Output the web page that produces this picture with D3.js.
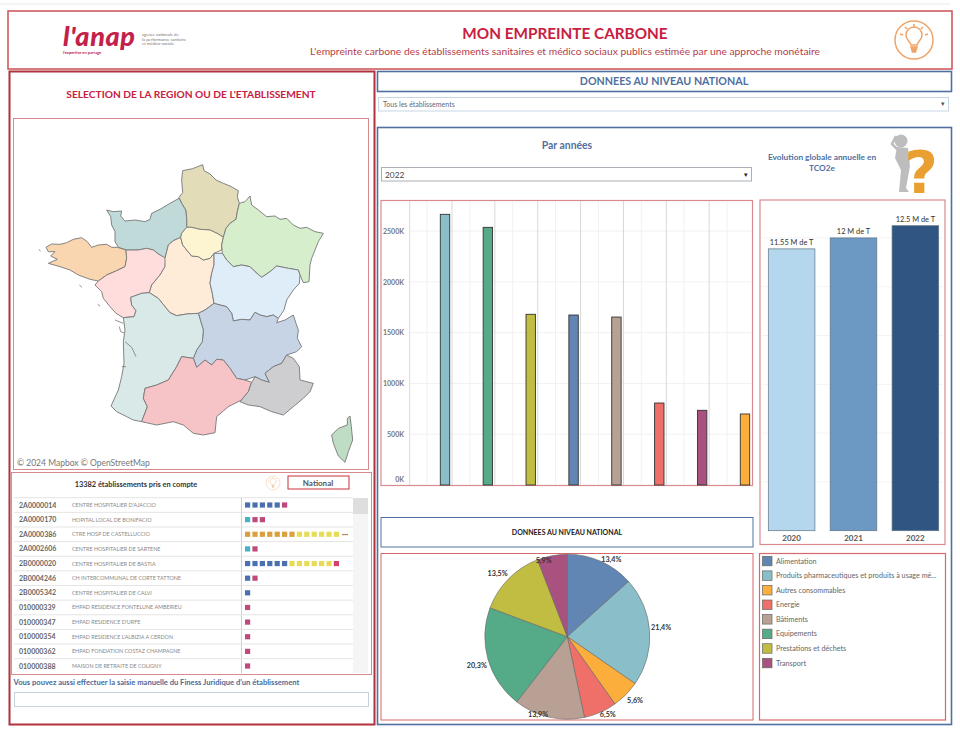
<!DOCTYPE html>
<html>
<head>
<meta charset="utf-8">
<title>Mon empreinte carbone</title>
<script src="https://cdn.jsdelivr.net/npm/d3@7"></script>
<style>
  html, body { margin: 0; padding: 0; background: #fff; }
  svg { display: block; }
  text { font-family: Lato, "Open Sans", sans-serif; }
</style>
</head>
<body>
<div id="chart"></div>
<script>
const categories = ['Alimentation', 'Produits pharmaceutiques et produits à usage mé...', 'Autres consommables', 'Energie', 'Bâtiments', 'Equipements', 'Prestations et déchets', 'Transport'];
const categoryColors = ['#6286B3', '#8ABFC9', '#FBAE3C', '#EE7068', '#B8A194', '#55AB87', '#C1BC42', '#A9527F'];
const sharePercent = [13.4, 21.4, 5.6, 6.5, 13.9, 20.3, 13.5, 5.9];

// bars sorted as in the "Par années" chart
const barCategories = ['Produits pharmaceutiques et produits à usage mé...', 'Equipements', 'Prestations et déchets', 'Alimentation', 'Bâtiments', 'Energie', 'Transport', 'Autres consommables'];
const barValues = [2664000, 2536000, 1680000, 1673000, 1653000, 807000, 735000, 699000];
const barTicks = [0, 500000, 1000000, 1500000, 2000000, 2500000];

const years = ['2020', '2021', '2022'];
const yearTotals = [11.55, 12, 12.5];
const yearLabels = ['11.55 M de T', '12 M de T', '12.5 M de T'];
const yearColors = ['#B5D7EE', '#6C98C4', '#2F5682'];
const yearTicks = [2, 4, 6, 8, 10, 12];

// establishments list
const finessCodes = ['2A0000014', '2A0000170', '2A0000386', '2A0002606', '2B0000020', '2B0004246', '2B0005342', '010000339', '010000347', '010000354', '010000362', '010000388'];
const finessNames = ['CENTRE HOSPITALIER D\'AJACCIO', 'HOPITAL LOCAL DE BONIFACIO', 'CTRE HOSP DE CASTELLUCCIO', 'CENTRE HOSPITALIER DE SARTENE', 'CENTRE HOSPITALIER DE BASTIA', 'CH INTERCOMMUNAL DE CORTE TATTONE', 'CENTRE HOSPITALIER DE CALVI', 'EHPAD RESIDENCE FONTELUNE AMBERIEU', 'EHPAD RESIDENCE D\'URFE', 'EHPAD RESIDENCE L\'ALBIZIA A CERDON', 'EHPAD FONDATION COSTAZ CHAMPAGNE', 'MAISON DE RETRAITE DE COLIGNY'];
const finessMarks = ['bbbbbm', 'tmm', 'oooooooyyyyyy', 'tm', 'bbbbbbyyyyyyr', 'bm', 'b', 'm', 'm', 'm', 'm', 'm'];
const markColors = { b: '#4A70B0', m: '#BE4A7C', t: '#45B2C8', o: '#D8A03E', y: '#E6DC58', r: '#D8406E' };

// region outlines, in the units of a 1095x960 tracing of the map
const regionNames = ['Hauts-de-France', 'Normandie', 'Bretagne', 'Pays de la Loire', 'Centre-Val de Loire', 'Ile-de-France', 'Grand Est', 'Bourgogne-Franche-Comté', 'Auvergne-Rhône-Alpes', 'Nouvelle-Aquitaine', 'Occitanie', 'PACA', 'Corse'];
const regionColors = ['#E2DCB9', '#C0DADA', '#F9D6B0', '#FEDDDC', '#FEEBD8', '#FDF4D2', '#D7EECD', '#DFEDF9', '#C6D4E6', '#D9E9E7', '#F6C4C6', '#CECDD0', '#BFDDC5'];
const regionOutlines = [
  [[507,142],[518,128],[515,90],[518,62],[548,56],[578,44],[582,62],[600,72],[618,90],[640,100],[660,108],[685,122],[682,140],[688,160],[682,185],[678,208],[660,220],[648,235],[640,262],[625,252],[600,240],[570,238],[545,232],[530,232],[530,205],[527,180],[515,160]],
  [[290,180],[310,185],[335,183],[332,198],[345,213],[375,210],[405,215],[420,208],[425,190],[450,178],[480,160],[507,145],[515,160],[527,180],[530,205],[530,232],[515,250],[512,262],[490,272],[475,285],[470,305],[465,325],[445,312],[430,300],[410,295],[385,300],[350,300],[325,292],[315,275],[315,245],[305,225],[302,200]],
  [[108,292],[125,282],[150,283],[170,278],[190,268],[215,263],[232,275],[245,292],[265,285],[290,283],[305,292],[322,292],[348,300],[350,325],[345,350],[320,362],[290,375],[265,393],[240,388],[205,375],[180,360],[150,350],[115,340],[142,328],[122,318],[135,305],[115,305]],
  [[348,300],[385,300],[410,295],[430,300],[445,312],[468,325],[465,350],[450,375],[425,405],[418,428],[395,430],[362,442],[365,465],[378,482],[372,500],[340,503],[318,490],[300,470],[280,445],[275,425],[255,405],[265,393],[290,375],[320,362],[345,350],[350,325]],
  [[475,285],[490,272],[512,262],[518,285],[530,300],[545,318],[565,320],[580,330],[600,325],[612,310],[612,345],[605,370],[600,400],[607,430],[612,460],[585,480],[565,490],[530,492],[500,497],[480,488],[465,470],[445,445],[418,428],[425,405],[450,375],[465,350],[465,325],[470,305]],
  [[530,232],[545,232],[570,238],[600,240],[625,252],[640,262],[635,285],[635,300],[612,310],[600,325],[580,330],[565,320],[545,318],[530,300],[518,285],[512,262],[515,250]],
  [[720,138],[725,165],[745,180],[770,200],[795,198],[810,208],[830,205],[850,225],[870,235],[890,232],[915,245],[940,250],[925,275],[915,300],[905,325],[900,345],[897,395],[880,398],[870,375],[865,360],[835,355],[800,348],[780,365],[755,382],[735,365],[720,350],[695,345],[670,350],[650,330],[637,310],[635,285],[640,262],[648,235],[660,220],[678,208],[682,185],[688,160],[705,155]],
  [[612,310],[637,310],[650,330],[670,350],[695,345],[720,350],[735,365],[755,382],[780,365],[800,348],[835,355],[865,360],[870,375],[868,400],[850,420],[830,450],[822,480],[805,505],[790,495],[770,500],[750,495],[735,487],[720,510],[695,508],[670,513],[665,490],[650,470],[630,465],[612,460],[607,430],[600,400],[605,370],[612,345]],
  [[612,460],[630,465],[650,470],[665,490],[670,513],[695,508],[720,510],[735,487],[750,495],[770,500],[790,495],[805,505],[800,518],[825,510],[850,495],[858,520],[865,540],[862,565],[875,590],[860,605],[830,615],[815,640],[790,650],[765,670],[778,697],[755,690],[735,680],[705,690],[680,685],[660,655],[640,630],[620,628],[605,645],[585,630],[560,652],[550,625],[560,600],[577,575],[580,540],[565,490],[585,480]],
  [[362,442],[395,430],[418,428],[445,445],[465,470],[480,488],[500,497],[530,492],[565,490],[580,540],[577,575],[560,600],[550,625],[515,620],[500,650],[475,690],[440,705],[405,715],[400,745],[412,770],[395,815],[370,810],[350,800],[320,785],[303,768],[325,720],[335,680],[342,640],[340,575],[345,540],[340,503],[372,500],[378,482],[365,465]],
  [[405,715],[440,705],[475,690],[500,650],[515,620],[550,625],[560,652],[585,630],[605,645],[620,628],[640,630],[660,655],[680,685],[705,690],[725,697],[715,725],[695,750],[655,770],[620,800],[615,848],[580,855],[550,850],[520,825],[490,815],[440,825],[395,815],[412,770],[400,745]],
  [[778,697],[765,670],[790,650],[815,640],[830,615],[850,625],[868,650],[870,690],[910,700],[900,725],[880,745],[850,770],[820,795],[785,785],[750,770],[715,765],[690,755],[715,725],[725,697],[735,680],[755,690]],
  [[1020,798],[1024,830],[1028,870],[1015,905],[1005,937],[985,918],[970,880],[965,855],[985,835],[1012,825],[1012,805]]
];
// islands and the Gironde estuary, same units
const coastDetails = [
  [[315,510],[340,520]],
  [[328,530],[332,545],[345,550]],
  [[345,575],[365,592],[378,620]],
  [[335,650],[348,650]],
  [[86,299],[92,303]],
  [[208,405],[216,412]],
  [[263,463],[270,468]]
];

const svgWidth = 960, svgHeight = 731;
const red = '#C9323F', darkRed = '#B0333C', softRed = '#D98A8E', blue = '#4F70A0', titleRed = '#C8203F';

const svg = d3.select('#chart').append('svg')
  .attr('width', svgWidth)
  .attr('height', svgHeight);

// small helpers for the frames and labels
function box(x, y, w, h, color, weight) {
  return svg.append('rect')
    .attr('x', x).attr('y', y).attr('width', w).attr('height', h)
    .attr('fill', 'none').attr('stroke', color).attr('stroke-width', weight || 1);
}
function label(x, y, str, size, color, anchor, weight) {
  return svg.append('text')
    .attr('x', x).attr('y', y).text(str)
    .attr('font-size', size).attr('fill', color)
    .attr('text-anchor', anchor || 'start')
    .attr('font-weight', weight || 400);
}
function bulb(cx, cy, r, color) {
  const g = svg.append('g').attr('transform', `translate(${cx},${cy}) scale(${r / 19})`)
    .attr('fill', 'none').attr('stroke', color).attr('stroke-width', 1.5);
  g.append('circle').attr('r', 19);
  g.append('path').attr('d', 'M-3 5 C-4 1 -8 0 -8 -5 A8 8 0 0 1 8 -5 C8 0 4 1 3 5 Z');
  g.append('path').attr('d', 'M-3 7 H3 L1.5 12 H-1.5 Z').attr('fill', color);
  g.append('path').attr('d', 'M0 -16 V-13 M-9 -13 L-7 -11 M9 -13 L7 -11 M-14 -6 L-11 -5 M14 -6 L11 -5');
}

// page frames
svg.append('line').attr('x1', 0).attr('x2', 950).attr('y1', 4).attr('y2', 4).attr('stroke', '#EEEAE6');
box(8, 11, 944, 58, '#CF5A60', 1.6);
box(9.5, 71.5, 365, 653, darkRed, 2);
box(377.5, 71.5, 574, 20, blue, 1.6);
box(377.5, 127.5, 574, 597, blue, 1.6);
box(13.5, 118.5, 355, 351, softRed, 1);
box(11.5, 472.5, 360, 202, softRed, 1);

// header
svg.append('text').attr('x', 63).attr('y', 45.5).text("l'anap")
  .attr('font-size', 27).attr('font-weight', 900).attr('font-style', 'italic').attr('fill', '#C4214A')
  .attr('letter-spacing', 0.6);
label(63, 54, "l'expertise en partage", 4, '#C4214A', 'start', 700);
label(142, 36, 'agence nationale de', 4.2, '#777');
label(142, 40.5, 'la performance sanitaire', 4.2, '#777');
label(142, 45, 'et médico-sociale', 4.2, '#777');
label(565, 39, 'MON EMPREINTE CARBONE', 15.3, titleRed, 'middle', 700);
label(565, 55, "L'empreinte carbone des établissements sanitaires et médico sociaux publics estimée par une approche monétaire", 10.3, '#B5404A', 'middle');
bulb(914, 40, 19, '#EFA468');

// left column
label(191, 98, "SELECTION DE LA REGION OU DE L'ETABLISSEMENT", 10.2, titleRed, 'middle', 700);

const mapX = d3.scaleLinear().domain([0, 1095]).range([10, 375]);
const mapY = d3.scaleLinear().domain([0, 960]).range([150, 470]);
const mapLine = d3.line().x(d => mapX(d[0])).y(d => mapY(d[1])).curve(d3.curveLinearClosed);
const coastLine = d3.line().x(d => mapX(d[0])).y(d => mapY(d[1]));

svg.append('g').selectAll('path')
  .data(regionOutlines)
  .join('path')
  .attr('d', mapLine)
  .attr('fill', (d, i) => regionColors[i])
  .attr('stroke', '#777')
  .attr('stroke-width', 0.9)
  .attr('stroke-linejoin', 'round')
  .append('title').text((d, i) => regionNames[i]);
svg.append('g').selectAll('path')
  .data(coastDetails)
  .join('path')
  .attr('d', coastLine)
  .attr('fill', 'none')
  .attr('stroke', '#888')
  .attr('stroke-width', 0.9);
label(17, 465.5, '© 2024 Mapbox  © OpenStreetMap', 8.5, '#777');

label(136, 487, '13382 établissements pris en compte', 7.4, '#333', 'middle', 700);
bulb(273, 483, 7, '#EFC9A0');
box(288, 476, 61, 13, red, 1);
label(318, 485.5, 'National', 8, '#555', 'middle', 700);

// establishments table
const rowY = d3.scalePoint().domain(finessCodes).range([505, 666]);
svg.append('rect').attr('x', 353).attr('y', 498).attr('width', 15).attr('height', 175).attr('fill', '#F5F5F5');
svg.append('rect').attr('x', 353).attr('y', 498).attr('width', 15).attr('height', 16).attr('fill', '#DEDEDE');
const rows = svg.append('g').selectAll('g')
  .data(finessCodes)
  .join('g')
  .attr('transform', d => `translate(0,${rowY(d)})`);
rows.append('line')
  .attr('x1', 14).attr('x2', 353).attr('y1', -7.3).attr('y2', -7.3)
  .attr('stroke', '#E4E4E4');
rows.append('line')
  .attr('x1', 241.5).attr('x2', 241.5).attr('y1', -7.3).attr('y2', 7.3)
  .attr('stroke', '#CBD3DA');
rows.append('text')
  .attr('x', 19).attr('y', 2.5).text(d => d)
  .attr('font-size', 7).attr('font-weight', 700).attr('fill', '#666');
rows.append('text')
  .attr('x', 72).attr('y', 2).text((d, i) => finessNames[i])
  .attr('font-size', 5.4).attr('fill', '#888');
rows.selectAll('rect')
  .data((d, i) => finessMarks[i].split(''))
  .join('rect')
  .attr('x', (d, i) => 245 + i * 7.4)
  .attr('y', -2.6)
  .attr('width', 5.2)
  .attr('height', 5.2)
  .attr('fill', d => markColors[d]);
label(342, 536, '•••', 3.5, '#555');

label(13.5, 685, "Vous pouvez aussi effectuer la saisie manuelle du Finess Juridique d'un établissement", 7.6, '#4A6A98', 'start', 700);
box(14.5, 692.5, 354, 14, '#C5D3DD', 1);

// right column
label(664, 85, 'DONNEES AU NIVEAU NATIONAL', 10.7, blue, 'middle', 700);
box(378.5, 97.5, 570, 13.5, '#C5D6E6', 1);
label(383, 106.5, 'Tous les établissements', 7, '#5A6A7A');
label(941, 106, '▾', 7, '#555');

label(567, 149, 'Par années', 10.4, blue, 'middle', 700);
box(381.5, 167.5, 370, 13.5, '#AAB0B5', 1);
label(385, 177.5, '2022', 8.4, '#444');
label(744, 177, '▾', 7, '#222');
label(822, 160, 'Evolution globale annuelle en', 8.3, blue, 'middle', 700);
label(822, 171, 'TCO2e', 8.3, blue, 'middle', 700);

// thinking figure and question mark
const figure = svg.append('g').attr('fill', '#BDBDBD');
figure.append('circle').attr('cx', 901).attr('cy', 141).attr('r', 6.5);
figure.append('path').attr('d', 'M897 147 L908 148 L910 166 L906 188 L909 192 L899 192 L901 170 L895 158 Z');
figure.append('path').attr('d', 'M898 150 L892 144 L896 136').attr('fill', 'none').attr('stroke', '#BDBDBD').attr('stroke-width', 2.6);
svg.append('text').attr('x', 921).attr('y', 193).text('?')
  .attr('font-size', 58).attr('font-weight', 700).attr('fill', '#E9A030').attr('text-anchor', 'middle')
  .style('font-family', '"DejaVu Sans"');

// category bars
box(381, 200.5, 371.5, 285, softRed, 1.2);
const barX = d3.scalePoint().domain(barCategories).range([445, 745]);
const barY = d3.scaleLinear().domain([0, 2500000]).range([485, 231]);
const barGrid = svg.append('g');
barGrid.selectAll('line.h')
  .data(barTicks.slice(1))
  .join('line')
  .attr('class', 'h')
  .attr('x1', 409).attr('x2', 752)
  .attr('y1', d => barY(d)).attr('y2', d => barY(d))
  .attr('stroke', '#F1F1F1');
barGrid.append('line')
  .attr('x1', 409.7).attr('x2', 409.7).attr('y1', 201).attr('y2', 485)
  .attr('stroke', '#D8D8D8');
barGrid.selectAll('line.major')
  .data(barCategories.slice(0, 7))
  .join('line')
  .attr('class', 'major')
  .attr('x1', d => barX(d) + 7).attr('x2', d => barX(d) + 7)
  .attr('y1', 201).attr('y2', 485)
  .attr('stroke', '#D8D8D8');
barGrid.selectAll('line.minor')
  .data(barCategories)
  .join('line')
  .attr('class', 'minor')
  .attr('x1', d => barX(d) - 18).attr('x2', d => barX(d) - 18)
  .attr('y1', 201).attr('y2', 485)
  .attr('stroke', '#F1F1F1');

svg.append('g').selectAll('rect')
  .data(barCategories)
  .join('rect')
  .attr('x', d => barX(d) - 4.7)
  .attr('y', (d, i) => barY(barValues[i]))
  .attr('width', 9.4)
  .attr('height', (d, i) => barY(0) - barY(barValues[i]))
  .attr('fill', d => categoryColors[categories.indexOf(d)])
  .attr('stroke', '#333')
  .attr('stroke-width', 0.9);

const barAxis = svg.append('g')
  .attr('transform', 'translate(406,0)')
  .call(d3.axisLeft(barY).tickValues(barTicks).tickSize(0).tickPadding(2).tickFormat(d => d / 1000 + 'K'));
barAxis.select('.domain').remove();
barAxis.selectAll('text').attr('font-size', 7).attr('font-weight', 700).attr('fill', '#777')
  .style('font-family', 'Lato');
// the 0K label sits above the baseline so it is not cut by the frame
barAxis.selectAll('.tick').filter(d => d === 0).select('text').attr('dy', '-0.5em');

// yearly totals
box(760, 200, 185, 344.5, softRed, 1.2);
const yearX = d3.scaleBand().domain(years).range([768.3, 938.7]).paddingInner(0.2466).paddingOuter(0);
const yearY = d3.scaleLinear().domain([0, 12.5]).range([530.7, 225.7]);
svg.append('g').selectAll('line')
  .data(yearTicks)
  .join('line')
  .attr('x1', 762).attr('x2', 943)
  .attr('y1', d => yearY(d)).attr('y2', d => yearY(d))
  .attr('stroke', '#F3F3F3');
svg.append('g').selectAll('rect')
  .data(years)
  .join('rect')
  .attr('x', d => yearX(d))
  .attr('y', (d, i) => yearY(yearTotals[i]))
  .attr('width', yearX.bandwidth())
  .attr('height', (d, i) => yearY(0) - yearY(yearTotals[i]))
  .attr('fill', (d, i) => yearColors[i])
  .attr('stroke', '#5F7484')
  .attr('stroke-width', 0.7);
svg.append('g').selectAll('text.value')
  .data(years)
  .join('text')
  .attr('class', 'value')
  .attr('x', d => yearX(d) + yearX.bandwidth() / 2)
  .attr('y', (d, i) => yearY(yearTotals[i]) - 4)
  .attr('text-anchor', 'middle')
  .attr('font-size', 7.4).attr('fill', '#333')
  .text((d, i) => yearLabels[i]);
svg.append('g').selectAll('text.year')
  .data(years)
  .join('text')
  .attr('class', 'year')
  .attr('x', d => yearX(d) + yearX.bandwidth() / 2)
  .attr('y', 541)
  .attr('text-anchor', 'middle')
  .attr('font-size', 8).attr('font-weight', 700).attr('fill', '#555')
  .text(d => d);

// pie
box(381, 517.5, 372, 29.5, blue, 1);
label(567, 535, 'DONNEES AU NIVEAU NATIONAL', 7, '#222', 'middle', 700);
box(381, 553.5, 372, 166.5, '#D8676B', 1);

const pieData = d3.pie().sort(null)(sharePercent);
const pieArc = d3.arc().innerRadius(0).outerRadius(82.5);
const pieLabelArc = d3.arc().innerRadius(91).outerRadius(91);
// labels were shifted by hand in the original, some over the slices
const pieLabelNudge = [[7, 6], [3, -3.5], [3, 0], [4, -6], [-9, -11], [-3, 4], [-5, 1], [-7, 13]];
const pie = svg.append('g').attr('transform', 'translate(567.3,636.7)');
pie.selectAll('path')
  .data(pieData)
  .join('path')
  .attr('d', pieArc)
  .attr('fill', (d, i) => categoryColors[i])
  .attr('stroke', '#666')
  .attr('stroke-width', 0.6);
pie.selectAll('text')
  .data(pieData)
  .join('text')
  .attr('transform', (d, i) => {
    const c = pieLabelArc.centroid(d);
    return `translate(${c[0] + pieLabelNudge[i][0]},${c[1] + pieLabelNudge[i][1]})`;
  })
  .attr('text-anchor', 'middle')
  .attr('dy', '0.35em')
  .attr('font-size', 7.2).attr('font-weight', 700).attr('fill', '#333')
  .text(d => d3.format('.1f')(d.data).replace('.', ',') + '%');

// legend
box(759.5, 553.5, 186, 166.5, '#D8676B', 1.2);
const legendY = d3.scalePoint().domain(categories).range([561, 663]);
const legend = svg.append('g').selectAll('g')
  .data(categories)
  .join('g')
  .attr('transform', d => `translate(762.5,${legendY(d)})`);
legend.append('rect')
  .attr('y', -4.7).attr('width', 9.5).attr('height', 9.5)
  .attr('fill', (d, i) => categoryColors[i])
  .attr('stroke', '#666').attr('stroke-width', 0.7);
legend.append('text')
  .attr('x', 13.5).attr('y', 2.6)
  .attr('font-size', 7.2).attr('fill', '#666')
  .text(d => d);
</script>
</body>
</html>
